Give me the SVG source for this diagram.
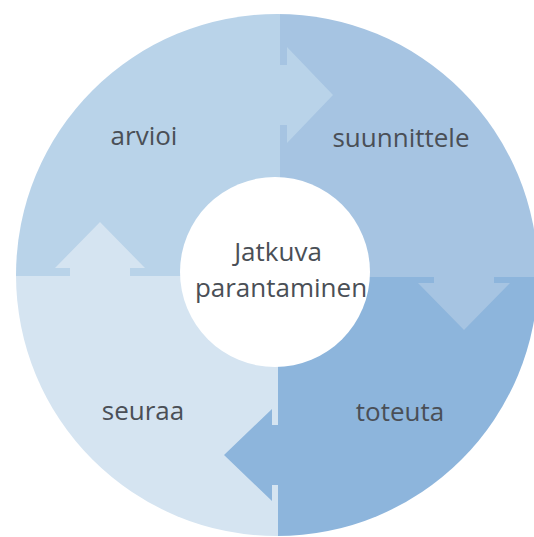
<svg xmlns="http://www.w3.org/2000/svg" width="534" height="537" viewBox="0 0 534 537">
  <style>
    .lbl{font-family:"Open Sans","Noto Sans","DejaVu Sans",sans-serif;font-size:26px;fill:#4a4f56;text-anchor:middle}
    .c-arvioi{fill:#b9d3e9}
    .c-suunnittele{fill:#a6c4e2}
    .c-toteuta{fill:#8db5dc}
    .c-seuraa{fill:#d5e4f1}
  </style>
  <defs>
    <clipPath id="ring"><circle cx="277" cy="275" r="261"/></clipPath>
  </defs>
  <rect width="534" height="537" fill="#ffffff"/>

  <g id="arvioi">
    <rect class="c-arvioi" x="0" y="0" width="280" height="276" clip-path="url(#ring)"/>
    <text class="lbl" x="144" y="145">arvioi</text>
  </g>
  <g id="suunnittele">
    <rect class="c-suunnittele" x="280" y="0" width="254" height="277" clip-path="url(#ring)"/>
    <text class="lbl" x="401" y="147">suunnittele</text>
  </g>
  <g id="toteuta">
    <rect class="c-toteuta" x="278" y="277" width="256" height="260" clip-path="url(#ring)"/>
    <text class="lbl" x="400" y="421">toteuta</text>
  </g>
  <g id="seuraa">
    <rect class="c-seuraa" x="0" y="276" width="278" height="261" clip-path="url(#ring)"/>
    <text class="lbl" x="143" y="420">seuraa</text>
  </g>

  <g id="connectors">
    <polygon class="c-arvioi" points="250,65 287,65 287,47 333,95 287,143 287,125 250,125"/>
    <polygon class="c-suunnittele" points="434,255 434,283 418,283 464,330 510,283 494,283 494,255"/>
    <polygon class="c-toteuta" points="300,425 272,425 272,409 224,455 272,501 272,485 300,485"/>
    <polygon class="c-seuraa" points="70,300 70,268 55,268 100,222 145,268 130,268 130,300"/>
  </g>

  <g id="center">
    <circle cx="275" cy="272" r="95" fill="#ffffff"/>
    <text class="lbl" x="278" y="261">Jatkuva</text>
    <text class="lbl" x="281" y="297">parantaminen</text>
  </g>
</svg>
